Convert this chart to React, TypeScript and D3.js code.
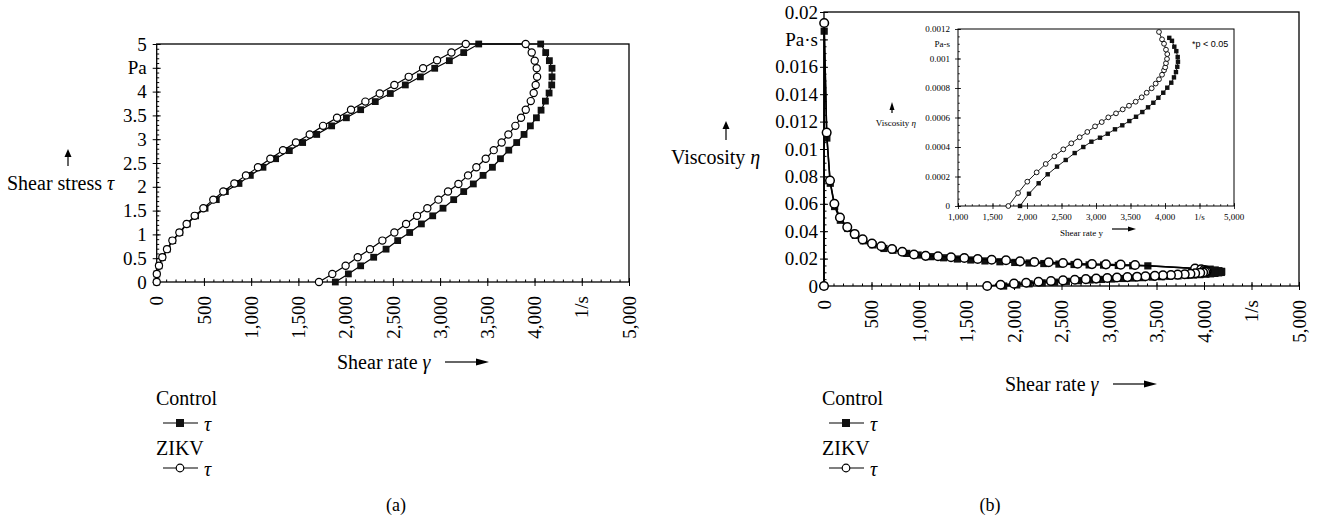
import React, { useEffect, useRef } from 'react';
import * as d3 from 'd3';

// tick labels as printed in the figure
const rateTickLabels = ['0', '500', '1,000', '1,500', '2,000', '2,500', '3,000', '3,500', '4,000', '1/s', '5,000'];
const stressTickLabels = ['0', '0.5', '1', '1.5', '2', '2.5', '3', '3.5', '4', 'Pa', '5'];
const viscTickLabels = ['0', '0.02', '0.04', '0.06', '0.08', '0.01', '0.012', '0.014', '0.016', 'Pa·s', '0.02'];
const insetRateTickLabels = ['1,000', '1,500', '2,000', '2,500', '3,000', '3,500', '4,000', '1/s', '5,000'];
const insetViscTickLabels = ['0', '0.0002', '0.0004', '0.0006', '0.0008', '0.001', '0.0012'];

// (a) shear stress [shear rate, tau]
const controlStress = [
  [0, 0], [2, 0.17], [25, 0.34], [62, 0.52], [112, 0.69], [170, 0.87], [245, 1.04], [324, 1.22], [412, 1.39], [512, 1.55],
  [631, 1.73], [727, 1.9], [871, 2.07], [991, 2.24], [1125, 2.41], [1259, 2.59], [1404, 2.76], [1545, 2.93], [1694, 3.1], [1852, 3.28],
  [2008, 3.45], [2159, 3.62], [2314, 3.79], [2473, 3.96], [2632, 4.14], [2791, 4.31], [2943, 4.49], [3098, 4.65], [3250, 4.82], [3409, 5.0],
  [4065, 5.0], [4118, 4.82], [4157, 4.65], [4185, 4.49], [4185, 4.31], [4182, 4.14], [4154, 3.97], [4115, 3.8], [4069, 3.61], [4020, 3.45],
  [3956, 3.28], [3889, 3.1], [3811, 2.93], [3727, 2.77], [3639, 2.59], [3554, 2.41], [3455, 2.24], [3352, 2.06], [3250, 1.9], [3144, 1.73],
  [3031, 1.55], [2922, 1.39], [2802, 1.22], [2678, 1.04], [2551, 0.87], [2428, 0.69], [2297, 0.52], [2159, 0.34], [2029, 0.17], [1891, 0]
];
const zikvStress = [
  [0, 0], [1, 0.17], [24, 0.34], [60, 0.52], [109, 0.69], [166, 0.87], [240, 1.04], [317, 1.22], [402, 1.39], [494, 1.55],
  [599, 1.73], [705, 1.9], [822, 2.07], [945, 2.24], [1072, 2.41], [1203, 2.59], [1337, 2.77], [1474, 2.93], [1620, 3.1], [1761, 3.28],
  [1909, 3.45], [2057, 3.62], [2209, 3.79], [2361, 3.96], [2516, 4.14], [2668, 4.31], [2820, 4.49], [2968, 4.66], [3120, 4.82], [3272, 5.0],
  [3906, 5.0], [3970, 4.82], [4002, 4.65], [4023, 4.49], [4027, 4.31], [4012, 4.14], [3991, 3.97], [3960, 3.8], [3907, 3.62], [3857, 3.45],
  [3797, 3.28], [3723, 3.1], [3652, 2.93], [3568, 2.77], [3483, 2.59], [3384, 2.41], [3296, 2.24], [3194, 2.06], [3084, 1.9], [2982, 1.73],
  [2865, 1.55], [2756, 1.39], [2640, 1.22], [2516, 1.04], [2389, 0.87], [2258, 0.69], [2128, 0.52], [2000, 0.34], [1859, 0.17], [1718, 0]
];

// (b) viscosity [shear rate, eta]
const controlVisc = [
  [0, 0], [2, 0.0186], [30, 0.0108], [66, 0.0075], [112, 0.0058], [172, 0.0048], [250, 0.0042], [330, 0.0037], [415, 0.0033], [515, 0.003],
  [631, 0.00274], [727, 0.00261], [871, 0.00238], [991, 0.00226], [1125, 0.00214], [1259, 0.00206], [1404, 0.00197], [1545, 0.0019], [1694, 0.00183], [1852, 0.00177],
  [2008, 0.00172], [2159, 0.00168], [2314, 0.00164], [2473, 0.0016], [2632, 0.00157], [2791, 0.00154], [2943, 0.00153], [3098, 0.0015], [3250, 0.00148], [3409, 0.00147],
  [4065, 0.00123], [4118, 0.00117], [4157, 0.00112], [4185, 0.00107], [4185, 0.00103], [4182, 0.00099], [4154, 0.00096], [4115, 0.00092], [4069, 0.00089], [4020, 0.00086],
  [3956, 0.00083], [3889, 0.0008], [3811, 0.00077], [3727, 0.00074], [3639, 0.00071], [3554, 0.00068], [3455, 0.00065], [3352, 0.00061], [3250, 0.00058], [3144, 0.00055],
  [3031, 0.00051], [2922, 0.00048], [2802, 0.00044], [2678, 0.00039], [2551, 0.00034], [2428, 0.00028], [2297, 0.00023], [2159, 0.00016], [2029, 0.00008], [1891, 0]
];
const zikvVisc = [
  [0, 0], [2, 0.0192], [28, 0.0112], [63, 0.0077], [109, 0.006], [168, 0.005], [245, 0.0043], [323, 0.0038], [407, 0.0034], [505, 0.0031],
  [603, 0.0029], [716, 0.0027], [824, 0.0025], [947, 0.0023], [1070, 0.0022], [1200, 0.00217], [1337, 0.0021], [1477, 0.00204], [1618, 0.00197], [1765, 0.00192],
  [1916, 0.00188], [2063, 0.0018], [2214, 0.00175], [2365, 0.00173], [2516, 0.00168], [2670, 0.00163], [2821, 0.0016], [2968, 0.00158], [3123, 0.00156], [3274, 0.00153],
  [3906, 0.00128], [3970, 0.00121], [4002, 0.00116], [4023, 0.00112], [4027, 0.00107], [4012, 0.00103], [3991, 0.00099], [3960, 0.00096], [3907, 0.00093], [3857, 0.00089],
  [3797, 0.00086], [3723, 0.00083], [3652, 0.0008], [3568, 0.00078], [3483, 0.00074], [3384, 0.00071], [3296, 0.00068], [3194, 0.00065], [3084, 0.00062], [2982, 0.00058],
  [2865, 0.00054], [2756, 0.0005], [2640, 0.00046], [2516, 0.00041], [2389, 0.00036], [2258, 0.00031], [2128, 0.00024], [2000, 0.00017], [1859, 0.00009], [1718, 0]
];

// inset [shear rate, eta]
const controlInset = [
  [1899, 0], [2029, 0.000083], [2169, 0.000154], [2300, 0.000215], [2435, 0.000267], [2561, 0.000312], [2691, 0.000359], [2816, 0.0004], [2933, 0.000436], [3058, 0.000463],
  [3170, 0.00049], [3275, 0.00052], [3381, 0.000547], [3483, 0.000576], [3580, 0.000605], [3671, 0.000637], [3754, 0.000669], [3831, 0.0007], [3904, 0.000734], [3975, 0.000768],
  [4033, 0.000802], [4091, 0.000836], [4130, 0.000872], [4159, 0.000908], [4178, 0.000944], [4188, 0.000978], [4184, 0.00101], [4164, 0.00105], [4135, 0.00108], [4101, 0.00112], [4062, 0.00114]
];
const zikvInset = [
  [1729, 0], [1870, 0.000088], [2004, 0.000165], [2140, 0.000228], [2271, 0.000285], [2396, 0.000337], [2526, 0.000384], [2642, 0.000425], [2763, 0.000466], [2874, 0.000502],
  [2986, 0.00054], [3083, 0.000569], [3178, 0.000601], [3290, 0.000628], [3387, 0.000655], [3478, 0.00068], [3575, 0.000707], [3662, 0.000737], [3735, 0.000768], [3807, 0.000798],
  [3865, 0.00083], [3913, 0.000859], [3957, 0.00089], [3986, 0.00092], [4003, 0.00094], [4014, 0.000968], [4029, 0.000997], [4033, 0.00103], [4014, 0.00106], [3986, 0.0011],
  [3957, 0.00113], [3913, 0.00118]
];

const SERIF = '"Liberation Serif", "DejaVu Serif", serif';
const TICK_FS = 19;
const TEXT_FS = 20;

function upArrow(g, x, yTail, yTip, w) {
  g.append('line').attr('x1', x).attr('x2', x).attr('y1', yTail).attr('y2', yTip + 6).attr('stroke', '#000').attr('stroke-width', 1.2);
  g.append('path').attr('d', `M${x - w},${yTip + 8}L${x},${yTip}L${x + w},${yTip + 8}Z`).attr('fill', '#000');
}

function rightArrow(g, x1, x2, y, len, w) {
  g.append('line').attr('x1', x1).attr('x2', x2 - len + 1).attr('y1', y).attr('y2', y).attr('stroke', '#000').attr('stroke-width', 1.2);
  g.append('path').attr('d', `M${x2 - len},${y - w}L${x2},${y}L${x2 - len},${y + w}Z`).attr('fill', '#000');
}

// frame, ticks and tick labels of one plot
function drawAxes(g, x, y, o) {
  const [x0, x1] = x.range();
  const [yb, yt] = y.range();
  g.append('rect').attr('x', x0).attr('y', yt).attr('width', x1 - x0).attr('height', yb - yt)
    .attr('fill', 'none').attr('stroke', '#000').attr('stroke-width', o.frame);

  const xMinor = g.append('g').attr('transform', `translate(0,${yb})`)
    .call(d3.axisBottom(x).tickValues(o.xMinor).tickSize(-o.minor).tickFormat(() => ''));
  const xMajor = g.append('g').attr('transform', `translate(0,${yb})`)
    .call(d3.axisBottom(x).tickValues(o.xMajor).tickSize(o.major).tickFormat(() => ''));
  xMajor.selectAll('line').attr('y1', -o.major);
  const yMinor = g.append('g').attr('transform', `translate(${x0},0)`)
    .call(d3.axisLeft(y).tickValues(o.yMinor).tickSize(-o.minor).tickFormat(() => ''));
  const yMajor = g.append('g').attr('transform', `translate(${x0},0)`)
    .call(d3.axisLeft(y).tickValues(o.yMajor).tickSize(o.major).tickFormat(() => ''));
  yMajor.selectAll('line').attr('x1', o.major);
  ;[xMinor, xMajor, yMinor, yMajor].forEach(a => {
    a.select('.domain').remove();
    a.selectAll('line').attr('stroke', '#000').attr('stroke-width', o.tickW);
  });

  g.selectAll(null).data(o.yMajor).enter().append('text')
    .attr('x', x0 - o.yPad).attr('y', d => y(d)).attr('dy', '0.35em')
    .attr('text-anchor', 'end').attr('font-family', SERIF).attr('font-size', o.fs)
    .text((d, i) => o.yLabels[i]);

  if (o.rotate) {
    g.selectAll(null).data(o.xMajor).enter().append('text')
      .attr('transform', d => `translate(${x(d)},${yb + o.xPad}) rotate(-90)`)
      .attr('dy', '0.35em').attr('text-anchor', 'end')
      .attr('font-family', SERIF).attr('font-size', o.fs)
      .text((d, i) => o.xLabels[i]);
  } else {
    g.selectAll(null).data(o.xMajor).enter().append('text')
      .attr('x', d => x(d)).attr('y', yb + o.xPad).attr('dy', '0.7em').attr('text-anchor', 'middle')
      .attr('font-family', SERIF).attr('font-size', o.fs)
      .text((d, i) => o.xLabels[i]);
  }
}

function drawSeries(g, x, y, data, filled, r, sw) {
  const line = d3.line().x(d => x(d[0])).y(d => y(d[1]));
  g.append('path').datum(data).attr('d', line).attr('fill', 'none').attr('stroke', '#000').attr('stroke-width', sw);
  if (filled) {
    g.selectAll(null).data(data).enter().append('rect')
      .attr('x', d => x(d[0]) - r).attr('y', d => y(d[1]) - r)
      .attr('width', 2 * r).attr('height', 2 * r).attr('fill', '#111');
  } else {
    g.selectAll(null).data(data).enter().append('circle')
      .attr('cx', d => x(d[0])).attr('cy', d => y(d[1])).attr('r', r)
      .attr('fill', '#fff').attr('stroke', '#000').attr('stroke-width', sw);
  }
}

function legend(g, x, y) {
  const t = (tx, ty, s, italic) => g.append('text').attr('x', tx).attr('y', ty).attr('dy', '0.35em')
    .attr('font-family', SERIF).attr('font-size', TEXT_FS).attr('font-style', italic ? 'italic' : 'normal').text(s);
  t(x, y, 'Control');
  g.append('line').attr('x1', x + 7).attr('x2', x + 42).attr('y1', y + 25).attr('y2', y + 25).attr('stroke', '#000').attr('stroke-width', 1.2);
  g.append('rect').attr('x', x + 20).attr('y', y + 21).attr('width', 8).attr('height', 8).attr('fill', '#111');
  t(x + 48, y + 26, 'τ', true);
  t(x, y + 50, 'ZIKV');
  g.append('line').attr('x1', x + 7).attr('x2', x + 42).attr('y1', y + 70).attr('y2', y + 70).attr('stroke', '#000').attr('stroke-width', 1.2);
  g.append('circle').attr('cx', x + 24).attr('cy', y + 70).attr('r', 3.8).attr('fill', '#fff').attr('stroke', '#000').attr('stroke-width', 1.2);
  t(x + 48, y + 71, 'τ', true);
}

export default function App() {
  const ref = useRef(null);

  useEffect(() => {
    const svg = d3.select(ref.current);
    svg.selectAll('*').remove();

    const rateMinor = d3.range(0, 5001, 100);
    const rateMajor = d3.range(0, 5001, 500);

    // ---------- (a) ----------
    const a = svg.append('g');
    const xa = d3.scaleLinear().domain([0, 5000]).range([156.7, 629]);
    const ya = d3.scaleLinear().domain([0, 5]).range([282, 44]);
    drawAxes(a, xa, ya, {
      xMajor: rateMajor, xMinor: rateMinor, yMajor: d3.range(0, 5.01, 0.5), yMinor: d3.range(0, 5.01, 0.1),
      xLabels: rateTickLabels, yLabels: stressTickLabels, fs: TICK_FS, major: 4, minor: 2.5, tickW: 1, frame: 1.3,
      yPad: 10, xPad: 14, rotate: true
    });
    drawSeries(a, xa, ya, controlStress, true, 3.4, 1.2);
    drawSeries(a, xa, ya, zikvStress, false, 3.6, 1.2);

    a.append('text').attr('x', 7).attr('y', 183).attr('dy', '0.35em').attr('font-family', SERIF).attr('font-size', TEXT_FS)
      .html('Shear stress <tspan font-style="italic">τ</tspan>');
    upArrow(a, 68, 166, 149, 3.5);
    a.append('text').attr('x', 337).attr('y', 362).attr('dy', '0.35em').attr('font-family', SERIF).attr('font-size', TEXT_FS)
      .html('Shear rate <tspan font-style="italic">γ</tspan>');
    rightArrow(a, 445, 489, 362, 13, 3.5);
    legend(a, 156, 398);
    a.append('text').attr('x', 396).attr('y', 505).attr('dy', '0.35em').attr('text-anchor', 'middle')
      .attr('font-family', SERIF).attr('font-size', 18).text('(a)');

    // ---------- (b) ----------
    const b = svg.append('g');
    const xb = d3.scaleLinear().domain([0, 5000]).range([824, 1299]);
    const yb = d3.scaleLinear().domain([0, 0.02]).range([286, 12]);
    drawAxes(b, xb, yb, {
      xMajor: rateMajor, xMinor: rateMinor, yMajor: d3.range(0, 0.02001, 0.002), yMinor: d3.range(0, 0.02001, 0.0005),
      xLabels: rateTickLabels, yLabels: viscTickLabels, fs: TICK_FS, major: 4, minor: 2.5, tickW: 1, frame: 1.3,
      yPad: 6, xPad: 14, rotate: true
    });
    drawSeries(b, xb, yb, controlVisc, true, 3.6, 1.5);
    drawSeries(b, xb, yb, zikvVisc, false, 4.3, 1.5);

    b.append('text').attr('x', 671).attr('y', 157).attr('dy', '0.35em').attr('font-family', SERIF).attr('font-size', TEXT_FS)
      .html('Viscosity <tspan font-style="italic">η</tspan>');
    upArrow(b, 726, 140, 121, 3.5);
    b.append('text').attr('x', 1005).attr('y', 384).attr('dy', '0.35em').attr('font-family', SERIF).attr('font-size', TEXT_FS)
      .html('Shear rate <tspan font-style="italic">γ</tspan>');
    rightArrow(b, 1113, 1157, 384, 13, 3.5);
    legend(b, 822, 398);
    b.append('text').attr('x', 990).attr('y', 505).attr('dy', '0.35em').attr('text-anchor', 'middle')
      .attr('font-family', SERIF).attr('font-size', 18).text('(b)');

    // ---------- inset ----------
    const c = svg.append('g');
    const xc = d3.scaleLinear().domain([1000, 5000]).range([958, 1234]);
    const yc = d3.scaleLinear().domain([0, 0.0012]).range([206, 29]);
    drawAxes(c, xc, yc, {
      xMajor: d3.range(1000, 5001, 500), xMinor: d3.range(1000, 5001, 100),
      yMajor: d3.range(0, 0.0012001, 0.0002), yMinor: d3.range(0, 0.0012001, 0.00005),
      xLabels: insetRateTickLabels, yLabels: insetViscTickLabels, fs: 9, major: 3, minor: 1.8, tickW: 0.8, frame: 1,
      yPad: 8, xPad: 8, rotate: false
    });
    c.append('text').attr('x', 950).attr('y', yc(0.0011)).attr('dy', '0.35em').attr('text-anchor', 'end')
      .attr('font-family', SERIF).attr('font-size', 9).text('Pa-s');
    drawSeries(c, xc, yc, controlInset, true, 2.2, 0.9);
    drawSeries(c, xc, yc, zikvInset, false, 2.4, 0.9);

    c.append('text').attr('x', 916).attr('y', 123).attr('dy', '0.35em').attr('text-anchor', 'end')
      .attr('font-family', SERIF).attr('font-size', 9).html('Viscosity <tspan font-style="italic">η</tspan>');
    upArrow(c, 892, 113, 102, 2.5);
    c.append('text').attr('x', 1060).attr('y', 233).attr('dy', '0.35em').attr('font-family', SERIF).attr('font-size', 9)
      .text('Shear rate y');
    rightArrow(c, 1112, 1136, 229, 8, 2.5);
    c.append('text').attr('x', 1192).attr('y', 44).attr('dy', '0.35em')
      .attr('font-family', '"Liberation Sans", Arial, sans-serif').attr('font-size', 9).text('*p < 0.05');
  }, []);

  return (
    <svg ref={ref} width={1325} height={521}
      style={{ position: 'absolute', left: 0, top: 0, background: '#fff' }} />
  );
}
